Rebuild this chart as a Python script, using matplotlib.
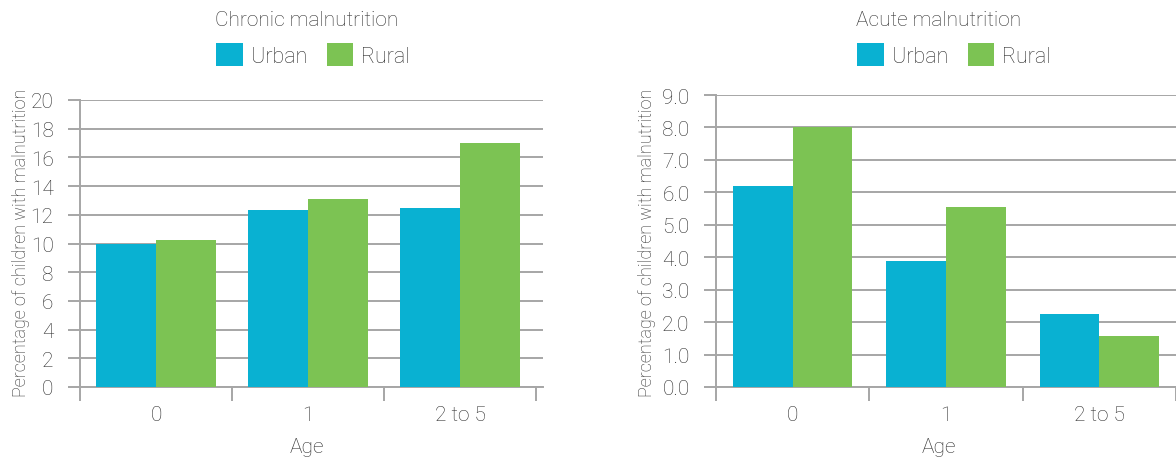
import numpy as np
import matplotlib.pyplot as plt

# age groups and prevalence (%) by residence
ages = ['0', '1', '2 to 5']
chronic_urban = [10.0, 12.35, 12.5]
chronic_rural = [10.25, 13.1, 17.0]
acute_urban = [6.2, 3.87, 2.26]
acute_rural = [8.0, 5.54, 1.57]

urban_col = '#09b1d2'
rural_col = '#7cc353'
grid_col = '#a6a6a6'
txt_col = '#2e2e2e'

plt.rcParams['font.family'] = ['Roboto', 'DejaVu Sans']
plt.rcParams['font.weight'] = 'light'
plt.rcParams['axes.labelweight'] = 'light'
plt.rcParams['text.color'] = txt_col

W, H = 1176, 460
fig = plt.figure(figsize=(W / 100, H / 100), dpi=100)


def px_axes(x0, x1, ytop, ybot):
    return fig.add_axes([x0 / W, 1 - ybot / H, (x1 - x0) / W, (ybot - ytop) / H])


def draw(ax, urban, rural, ymax, yticks, fmt, bw, xright, title, tcx, lcx, ylx):
    x = np.arange(len(ages))
    ax.bar(x - bw / 2, urban, bw, color=urban_col, label='Urban', zorder=3)
    ax.bar(x + bw / 2, rural, bw, color=rural_col, label='Rural', zorder=3)
    ax.set_xlim(-0.5, xright)
    ax.set_ylim(0, ymax)
    ax.set_yticks(yticks)
    ax.set_yticklabels([fmt.format(v) for v in yticks])
    ax.grid(axis='y', color=grid_col, linewidth=1.4, zorder=0)
    for s in ['top', 'right']:
        ax.spines[s].set_visible(False)
    for s in ['left', 'bottom']:
        ax.spines[s].set_color(grid_col)
        ax.spines[s].set_linewidth(1.4)
    # category boundaries as ticks, names at the centres
    ax.set_xticks(np.arange(len(ages) + 1) - 0.5)
    ax.set_xticklabels([])
    ax.set_xticks(x, minor=True)
    ax.set_xticklabels(ages, minor=True)
    ax.tick_params(axis='x', which='major', length=10, width=1.4, color=grid_col)
    ax.tick_params(axis='x', which='minor', length=0, pad=13, labelsize=15, labelcolor=txt_col)
    ax.tick_params(axis='y', length=9, width=1.4, color=grid_col, pad=10,
                   labelsize=15, labelcolor=txt_col)
    ax.set_xlabel('Age', fontsize=15, color=txt_col, fontweight='light')
    ax.set_ylabel('Percentage of children with malnutrition', fontsize=13,
                  color=txt_col, fontweight='light')
    bbox = ax.get_position()
    hpx = bbox.height * H
    wpx = bbox.width * W
    ax.xaxis.set_label_coords((tcx - bbox.x0 * W) / wpx, -(438 - 388) / hpx)
    ax.yaxis.set_label_coords((ylx - bbox.x0 * W) / wpx, (388 - 243) / hpx)
    fig.text(tcx / W, 1 - 21 / H, title, ha='center', va='center', fontsize=15)
    ax.legend(loc='center', bbox_to_anchor=(lcx / W, 1 - 56 / H),
              bbox_transform=fig.transFigure, ncol=2, frameon=False,
              fontsize=15.5, handlelength=1.25, handleheight=1.25,
              handletextpad=0.35, columnspacing=0.9, labelcolor=txt_col)


ax1 = px_axes(80, 543, 101, 388)
draw(ax1, chronic_urban, chronic_rural, 20, np.arange(0, 21, 2), '{:.0f}',
     0.395, 2.546, 'Chronic malnutrition', 307, 313, 30)

ax2 = px_axes(716, 1176, 96, 388)
draw(ax2, acute_urban, acute_rural, 9, np.arange(0, 9.5, 1.0), '{:.1f}',
     0.39, 2.458, 'Acute malnutrition', 939, 954, 656)

fig.savefig('out.png', dpi=100)
